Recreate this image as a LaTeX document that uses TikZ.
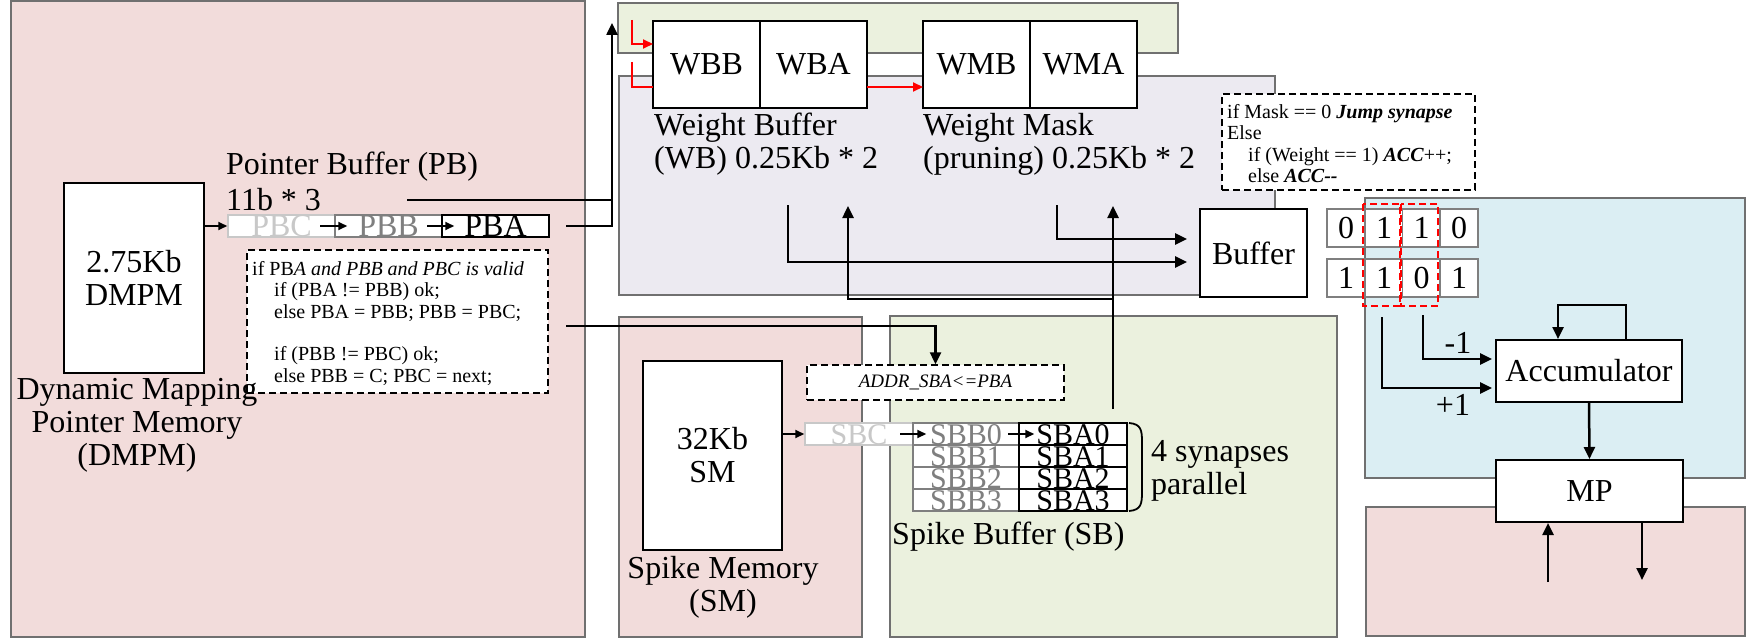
\documentclass[tikz,border=0pt]{standalone}
\usepackage{fontspec}
\setmainfont{Liberation Serif}
\usetikzlibrary{arrows.meta,calc}
\definecolor{pinkbg}{HTML}{F2DCDB}
\definecolor{lavbg}{HTML}{ECEAF1}
\definecolor{greenbg}{HTML}{EBF1DE}
\definecolor{bluebg}{HTML}{DBEEF3}
\definecolor{panelline}{HTML}{707070}
\definecolor{lgray}{HTML}{C8C8C8}
\definecolor{mgray}{HTML}{7F7F7F}
\newcommand\fbig{\fontsize{32}{33}\selectfont}
\newcommand\fcell{\fontsize{30}{30}\selectfont}
\newcommand\fcode{\fontsize{20}{21.4}\selectfont}
\tikzset{
  panel/.style={draw=panelline, line width=1.5pt},
  blk/.style={draw=black, line width=2pt, fill=white, inner sep=0pt, font=\fbig},
  cell/.style={line width=1.5pt, fill=white, inner sep=0pt, minimum height=22pt, font=\fbig, text height=21pt, text depth=0pt},
  scell/.style={cell, font=\fcell, text height=20pt},
  bit/.style={draw=mgray, line width=1.5pt, fill=white, inner sep=0pt, minimum width=38pt, minimum height=38pt, font=\fbig},
  dbox/.style={draw=black, dashed, dash pattern=on 7pt off 4pt, line width=1.5pt, fill=white, inner sep=0pt},
  codetxt/.style={inner sep=0pt, align=left, font=\fcode},
  lbl/.style={inner sep=0pt, font=\fbig},
  line/.style={line width=2.5pt},
  conn/.style={line width=2.5pt, -{Triangle[length=12pt,width=11pt]}},
  sconn/.style={line width=2pt, -{Triangle[length=9pt,width=8pt]}},
  rline/.style={red, line width=2pt},
  rconn/.style={red, line width=2pt, -{Triangle[length=10pt,width=9pt]}},
  reddash/.style={red, dashed, dash pattern=on 7pt off 4pt, line width=1.5pt},
  bracest/.style={line width=1.8pt}
}
\begin{document}
\begin{tikzpicture}[x=1pt,y=-1pt]
\useasboundingbox (0,0) rectangle (1747,639);
% panels
\path[panel, fill=pinkbg] (11,1) rectangle (585,637);
\path[panel, fill=greenbg] (618,3) rectangle (1178,53);
\path[panel, fill=lavbg] (619,76) rectangle (1275,295);
\path[panel, fill=pinkbg] (619,317) rectangle (862,637);
\path[panel, fill=greenbg] (890,316) rectangle (1337,637);
\path[panel, fill=bluebg] (1365,198) rectangle (1745,478);
\path[panel, fill=pinkbg] (1366,507) rectangle (1745,636);

% ---------- DMPM ----------
\node[blk, minimum width=140pt, minimum height=190pt, align=center] (dmpm) at (134,278) {2.75Kb\\DMPM};
\node[lbl, anchor=west] (pbtitle) at (226,167) {Pointer Buffer (PB)};
\node[lbl, anchor=west] (pbsize) at (226,200) {11b * 3};
\node[cell, draw=lgray, text=lgray, minimum width=107pt] (pbc) at (281.5,226) {PBC};
\node[cell, draw=mgray, text=mgray, minimum width=107pt] (pbb) at (388.5,226) {PBB};
\node[cell, draw=black, minimum width=107pt] (pba) at (495.5,226) {PBA};
\draw[sconn] (dmpm.east |- pbc.west) -- (pbc.west);
\draw[sconn] ($(pbb.west)+(-14,0)$) -- ($(pbb.west)+(13,0)$);
\draw[sconn] ($(pba.west)+(-14,0)$) -- ($(pba.west)+(13,0)$);

\node[dbox, minimum width=301pt, minimum height=143pt] (code1) at (397.5,321.5) {};
\node[codetxt, anchor=north west] (code1t) at (252,261) {if PB\textit{A and PBB and PBC is valid}\\
\hspace*{22pt}if (PBA != PBB) ok;\\
\hspace*{22pt}else PBA = PBB; PBB = PBC;\\[21.4pt]
\hspace*{22pt}if (PBB != PBC) ok;\\
\hspace*{22pt}else PBB = C; PBC = next;};
\node[lbl, align=center] (dmpmlbl) at (137,425) {Dynamic Mapping\\Pointer Memory\\(DMPM)};

% connectors out of pointer buffer
\coordinate (uptip) at (612,23);
\coordinate (pbout) at (566,226);
\coordinate (pbtxt) at (407,200);
\coordinate (c1out) at (566,326);
\draw[conn] (pbout) -| (uptip);
\draw[line] (pbtxt) -- (pbtxt -| uptip);

% ---------- Weight buffers ----------
\node[blk, minimum width=107pt, minimum height=87pt] (wbb) at (706.5,64.5) {WBB};
\node[blk, minimum width=107pt, minimum height=87pt] (wba) at (813.5,64.5) {WBA};
\node[blk, minimum width=107pt, minimum height=87pt] (wmb) at (976.5,64.5) {WMB};
\node[blk, minimum width=107pt, minimum height=87pt] (wma) at (1083.5,64.5) {WMA};
\coordinate (r1s) at (632,20);
\coordinate (r1e) at (653,44);
\coordinate (r2s) at (632,62);
\coordinate (r2e) at (653,87);
\coordinate (r3s) at (867,87);
\coordinate (r3e) at (923,87);
\draw[rconn] (r1s) |- (r1e);
\draw[rline] (r2s) |- (r2e);
\draw[rconn] (r3s) -- (r3e);
\node[lbl, anchor=north west, align=left] (wblbl) at (654,113) {Weight Buffer\\(WB) 0.25Kb * 2};
\node[lbl, anchor=north west, align=left] (wmlbl) at (923,113) {Weight Mask\\(pruning) 0.25Kb * 2};

\node[blk, minimum width=107pt, minimum height=88pt] (buf) at (1253.5,253) {Buffer};
\coordinate (wa1) at (788,205);
\coordinate (wa2) at (1057,205);
\coordinate (bt1) at (1187,262);
\coordinate (bt2) at (1187,239);
\draw[conn] (wa1) |- (bt1);
\draw[conn] (wa2) |- (bt2);
\coordinate (sbtop) at (1113,409);
\coordinate (up1) at (1113,206);
\coordinate (up2) at (848,206);
\coordinate (jn) at (1113,299);
\draw[conn] (sbtop) -- (up1);
\draw[conn] (jn) -| (up2);

\node[dbox, minimum width=253pt, minimum height=96pt] (code2) at (1348.5,142) {};
\node[codetxt, anchor=north west] (code2t) at (1227,104) {if Mask == 0 \textbf{\textit{Jump synapse}}\\
Else\\
\hspace*{21pt}if (Weight == 1) \textbf{\textit{ACC}}++;\\
\hspace*{21pt}else \textbf{\textit{ACC{-}{-}}}};

% ---------- bits ----------
\node[bit] (b11) at (1346,228) {0};
\node[bit] (b12) at (1384,228) {1};
\node[bit] (b13) at (1421.5,228) {1};
\node[bit] (b14) at (1459,228) {0};
\node[bit] (b21) at (1346,278) {1};
\node[bit] (b22) at (1384,278) {1};
\node[bit] (b23) at (1421.5,278) {0};
\node[bit] (b24) at (1459,278) {1};
\draw[reddash] (1363,204) rectangle (1400,306);
\draw[reddash] (1401,204) rectangle (1438,306);

% ---------- Accumulator / MP ----------
\node[blk, minimum width=186pt, minimum height=62pt] (acc) at (1589,371) {Accumulator};
\node[blk, minimum width=187pt, minimum height=62pt] (mp) at (1589.5,491) {MP};
\coordinate (fb1) at (1626,305);
\coordinate (fb2) at (1558,305);
\draw[conn] (acc.north -| fb1) -- (fb1) -- (fb2) -- (acc.north -| fb2);
\coordinate (m1) at (1423,315);
\coordinate (m1e) at (1492,359);
\coordinate (p1) at (1382,317);
\coordinate (p1e) at (1492,388);
\draw[conn] (m1) |- (m1e);
\draw[conn] (p1) |- (p1e);
\node[lbl] (m1lbl) at (1458,343) {-1};
\node[lbl] (p1lbl) at (1453,405) {+1};
\draw[conn] (acc.south) -- (mp.north);
\coordinate (lo1) at (1548,582);
\coordinate (lo2) at (1642,580);
\draw[conn] (lo1) -- (mp.south -| lo1);
\draw[conn] (mp.south -| lo2) -- (lo2);

% ---------- Spike memory / buffer ----------
\node[blk, minimum width=139pt, minimum height=189pt, align=center] (sm) at (712.5,455.5) {32Kb\\SM};
\node[lbl, align=center] (smlbl) at (723,587) {Spike Memory\\(SM)};
\node[dbox, minimum width=257pt, minimum height=35pt, font=\fontsize{19}{20}\selectfont\itshape] (addr) at (935.5,382.5) {ADDR\_SBA<=PBA};
\draw[conn] (c1out) -| (addr.north);

\node[scell, draw=lgray, text=lgray, minimum width=108pt] (sbc) at (859,434) {SBC};
\node[scell, draw=mgray, text=mgray, minimum width=106pt] (sbb0) at (966,434) {SBB0};
\node[scell, draw=mgray, text=mgray, minimum width=106pt] (sbb1) at (966,456) {SBB1};
\node[scell, draw=mgray, text=mgray, minimum width=106pt] (sbb2) at (966,478) {SBB2};
\node[scell, draw=mgray, text=mgray, minimum width=106pt] (sbb3) at (966,500) {SBB3};
\node[scell, draw=black, minimum width=108pt] (sba0) at (1073,434) {SBA0};
\node[scell, draw=black, minimum width=108pt] (sba1) at (1073,456) {SBA1};
\node[scell, draw=black, minimum width=108pt] (sba2) at (1073,478) {SBA2};
\node[scell, draw=black, minimum width=108pt] (sba3) at (1073,500) {SBA3};
\draw[sconn] (sm.east |- sbc.west) -- (sbc.west);
\draw[sconn] ($(sbb0.west)+(-12,0)$) -- ($(sbb0.west)+(14,0)$);
\draw[sconn] ($(sba0.west)+(-10,0)$) -- ($(sba0.west)+(16,0)$);
\coordinate (brt) at (1129,423);
\coordinate (brb) at (1129,511);
\draw[bracest] (brt) .. controls (1141,424) and (1142,430) .. (1142,442) -- (1142,492) .. controls (1142,504) and (1141,510) .. (brb);
\node[lbl, anchor=west, align=left] (synlbl) at (1151,471) {4 synapses\\parallel};
\node[lbl, anchor=west] (sblbl) at (892,537) {Spike Buffer (SB)};
\end{tikzpicture}
\end{document}
